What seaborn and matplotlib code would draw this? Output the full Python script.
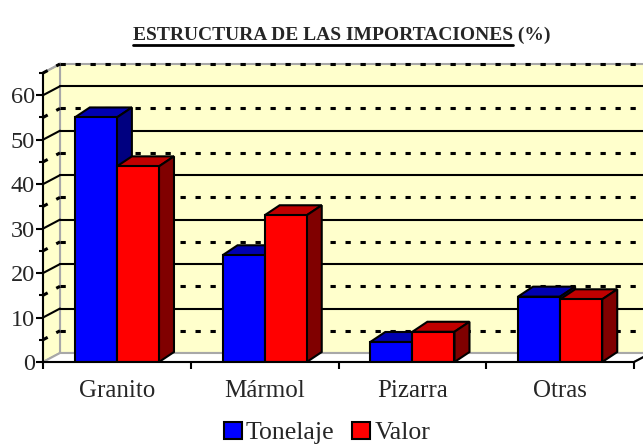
import numpy as np
import pandas as pd
import seaborn as sns
import matplotlib
matplotlib.use('Agg')
import matplotlib.pyplot as plt
from matplotlib.patches import Polygon, Patch
from matplotlib.transforms import IdentityTransform
from matplotlib.lines import Line2D

categories = ['Granito', 'Mármol', 'Pizarra', 'Otras']
tonelaje = [55, 24, 4.5, 14.7]
valor = [44, 33, 6.8, 14.1]
series = ['Tonelaje', 'Valor']
yticks = [0, 10, 20, 30, 40, 50, 60]

sns.set_style('white')
plt.rcParams['font.family'] = ['Liberation Serif', 'DejaVu Serif']
plt.rcParams['lines.scale_dashes'] = False

W, H = 643, 448
fig = plt.figure(figsize=(W / 100, H / 100), dpi=100)
L, R, B, T = 43, 634, 362, 73
ax = fig.add_axes([L / W, 1 - B / H, (R - L) / W, (B - T) / H])
ax.set_facecolor('none')

df = pd.DataFrame({'cat': categories * 2,
                   'serie': [series[0]] * 4 + [series[1]] * 4,
                   'val': tonelaje + valor})
sns.barplot(data=df, x='cat', y='val', hue='serie', palette=['#0000FF', '#FF0000'],
            width=0.57, edgecolor='black', linewidth=1.5, ax=ax, legend=False,
            saturation=1, errorbar=None)
bars = [p for p in ax.patches]
ax.set_xlim(-0.5, 3.5)
ax.set_ylim(0, 65)
ax.set_xlabel('')
ax.set_ylabel('')

td = ax.transData
x0, y0 = td.transform((-0.5, 0))
x1, _ = td.transform((3.5, 0))
_, ytop = td.transform((0, 65))
WX, WY = 17, 9
idt = IdentityTransform()
wall_col = '#FFFFCC'
gray = '#A8A8A8'

def poly(pts, fc, ec, lw, z):
    p = Polygon(pts, closed=True, facecolor=fc, edgecolor=ec, linewidth=lw,
                transform=idt, clip_on=False, zorder=z)
    ax.add_artist(p)
    return p

# back wall
poly([(x0 + WX, y0 + WY), (x1 + WX, y0 + WY), (x1 + WX, ytop + WY), (x0 + WX, ytop + WY)],
     wall_col, gray, 1.5, 0.1)
# left wall
poly([(x0, y0), (x0, ytop), (x0 + WX, ytop + WY), (x0 + WX, y0 + WY)], wall_col, gray, 1.5, 0.1)
# floor
poly([(x0, y0), (x1, y0), (x1 + WX, y0 + WY), (x0 + WX, y0 + WY)], 'white', gray, 1.5, 0.1)

# gridlines
for v in range(5, 70, 5):
    _, yv = td.transform((0, v))
    if v % 10 == 0:
        kw = dict(color='black', linewidth=1.5, linestyle='-')
    else:
        kw = dict(color='black', linewidth=2.2, linestyle=(0, (3.8, 7.0)))
    for xs, ys in [([x0 + WX, x1 + WX], [yv + WY, yv + WY]), ([x0, x0 + WX], [yv, yv + WY])]:
        ln = Line2D(xs, ys, transform=idt, clip_on=False, zorder=0.5, **kw)
        ax.add_artist(ln)

# 3D bar faces
BX, BY = 15, 10
shade = {'b': ('#0000B0', '#000080'), 'r': ('#C00000', '#800000')}
bars_sorted = sorted(bars, key=lambda p: p.get_x())
for i, p in enumerate(bars_sorted):
    (xa, ya) = td.transform((p.get_x(), 0))
    (xb, yb) = td.transform((p.get_x() + p.get_width(), p.get_height()))
    fc = p.get_facecolor()
    key = 'b' if fc[2] > 0.5 else 'r'
    topc, sidec = shade[key]
    zb = 3 + 2 * i
    poly([(xa, yb), (xb, yb), (xb + BX, yb + BY), (xa + BX, yb + BY)], topc, 'black', 1.5, zb)
    poly([(xb, ya), (xb, yb), (xb + BX, yb + BY), (xb + BX, ya + BY)], sidec, 'black', 1.5, zb)
    p.set_zorder(zb + 1)

# axes styling
for s in ['top', 'right']:
    ax.spines[s].set_visible(False)
for s in ['left', 'bottom']:
    ax.spines[s].set_color('black')
    ax.spines[s].set_linewidth(1.5)
    ax.spines[s].set_zorder(50)
ax.set_yticks(yticks)
ax.set_yticklabels([str(v) for v in yticks], fontsize=17.5)
ax.set_yticks(list(range(5, 70, 10)), minor=True)
ax.tick_params(axis='y', which='major', direction='out', length=5, width=1.5, color='black', pad=1, left=True)
ax.tick_params(axis='y', which='minor', direction='out', length=3, width=1.5, color='black', left=True)
ax.set_xticks(range(4))
ax.set_xticklabels(categories, fontsize=18)
ax.set_xticks([-0.5, 0.5, 1.5, 2.5, 3.5], minor=True)
ax.tick_params(axis='x', which='major', length=0, pad=13)
ax.tick_params(axis='x', which='minor', direction='out', length=5, width=1.5, color='black', bottom=True)
ax.add_artist(Line2D([x1, x1 + WX], [y0, y0 + WY], transform=idt, clip_on=False, color='black', lw=1.5, zorder=50))
ax.add_artist(Line2D([x0, x0 + WX], [ytop, ytop + WY], transform=idt, clip_on=False, color=gray, lw=1.5, zorder=0.2))

# title with underline
rend = fig.canvas.get_renderer()
t1 = fig.text(0, 0, 'ESTRUCTURA DE LAS IMPORTACIONES', fontsize=14, fontweight='bold',
              transform=idt, va='baseline', ha='left')
t2 = fig.text(0, 0, ' (%)', fontsize=14, fontweight='bold', transform=idt, va='baseline', ha='left')
w1 = t1.get_window_extent(rend).width
w2 = t2.get_window_extent(rend).width
cx = 342
base = H - 40
sx = cx - (w1 + w2) / 2
t1.set_position((sx, base))
t2.set_position((sx + w1, base))
fig.add_artist(Line2D([sx, sx + w1], [base - 5, base - 5], transform=idt, color='black', lw=2))

handles = [Patch(facecolor='#0000FF', edgecolor='black', linewidth=1.5),
           Patch(facecolor='#FF0000', edgecolor='black', linewidth=1.5)]
fig.legend(handles=handles, labels=series, loc='center', bbox_to_anchor=(327 / W, 1 - 433 / H),
           ncol=2, frameon=False, fontsize=18.5, handlelength=0.7, handleheight=0.7,
           handletextpad=0.15, columnspacing=0.7, borderpad=0)

fig.savefig('out.png', dpi=100)
